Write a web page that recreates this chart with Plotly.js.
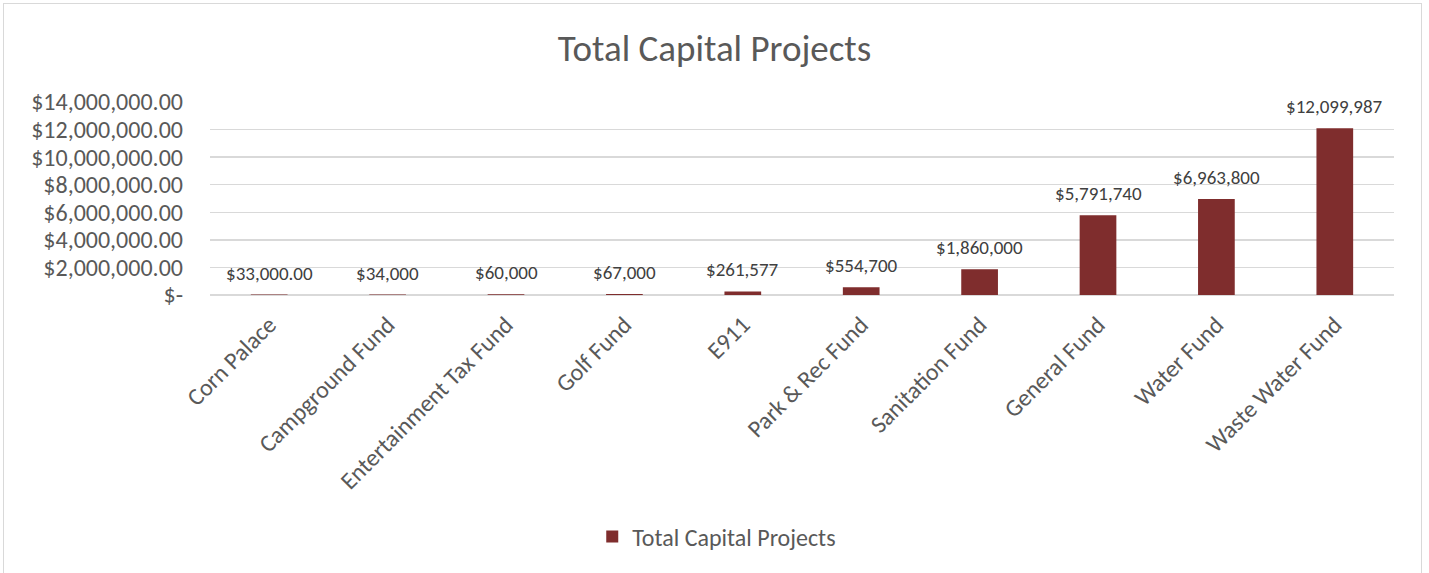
<!DOCTYPE html>
<html>
<head>
<meta charset="utf-8">
<script src="https://cdn.plot.ly/plotly-3.0.1.min.js"></script>
<style>
  html, body { margin: 0; padding: 0; background: #ffffff; }
  #frame { position: absolute; left: 3px; top: 3px; width: 1419px; height: 620px; border: 1px solid #D9D9D9; box-sizing: border-box; }
  #chart { position: absolute; left: 0; top: 0; width: 1429px; height: 573px; }
</style>
</head>
<body>
<div id="frame"></div>
<div id="chart"></div>
<script>
const categories = ["Corn Palace", "Campground Fund", "Entertainment Tax Fund", "Golf Fund", "E911",
  "Park & Rec Fund", "Sanitation Fund", "General Fund", "Water Fund", "Waste Water Fund"];
const values = [33000, 34000, 60000, 67000, 261577, 554700, 1860000, 5791740, 6963800, 12099987];
const dataLabels = ["$33,000.00", "$34,000", "$60,000", "$67,000", "$261,577", "$554,700",
  "$1,860,000", "$5,791,740", "$6,963,800", "$12,099,987"];
const yTickVals = [0, 2000000, 4000000, 6000000, 8000000, 10000000, 12000000, 14000000];
const yTickText = ["$-", "$2,000,000.00", "$4,000,000.00", "$6,000,000.00", "$8,000,000.00",
  "$10,000,000.00", "$12,000,000.00", "$14,000,000.00"];
const seriesName = "Total Capital Projects";

const FONT = "Carlito, Calibri, Lato, sans-serif";
const GREY = "#595959";
const BAR = "#7F2D2D";

const trace = {
  type: "bar",
  x: categories,
  y: values,
  name: seriesName,
  marker: { color: BAR },
  hoverinfo: "x+y",
  showlegend: true
};

const annotations = categories.map((c, i) => ({
  x: c, y: values[i], xref: "x", yref: "y",
  text: dataLabels[i], showarrow: false,
  yanchor: "bottom", yshift: 8,
  font: { family: FONT, size: 19, color: "#404040" }
}));

const layout = {
  width: 1429, height: 573,
  paper_bgcolor: "rgba(0,0,0,0)",
  plot_bgcolor: "rgba(0,0,0,0)",
  margin: { l: 210, r: 35, t: 102, b: 278 },
  title: {
    text: "Total Capital Projects",
    font: { family: FONT, size: 37, color: GREY },
    x: 0.5, xanchor: "center", y: 0.916, yanchor: "middle"
  },
  bargap: 0.69,
  xaxis: {
    type: "category",
    tickangle: -45,
    tickfont: { family: FONT, size: 24, color: GREY },
    showgrid: false, zeroline: false,
    showline: false, ticks: "",
    ticklabelstandoff: 10,
    automargin: false
  },
  yaxis: {
    range: [0, 14000000],
    tickvals: yTickVals,
    ticktext: yTickText,
    tickfont: { family: FONT, size: 24, color: GREY },
    showgrid: true, gridcolor: "#D9D9D9", gridwidth: 1.5,
    zeroline: true, zerolinecolor: "#D9D9D9", zerolinewidth: 1.5,
    showline: false, ticks: "",
    ticklabelstandoff: 26,
    automargin: false
  },
  showlegend: true,
  legend: {
    orientation: "h",
    x: 0.428, xanchor: "center",
    y: -1.254, yanchor: "middle",
    font: { family: FONT, size: 24, color: GREY },
    itemwidth: 30
  },
  annotations: annotations
};

Plotly.newPlot("chart", [trace], layout, { displayModeBar: false, staticPlot: true });
</script>
</body>
</html>
